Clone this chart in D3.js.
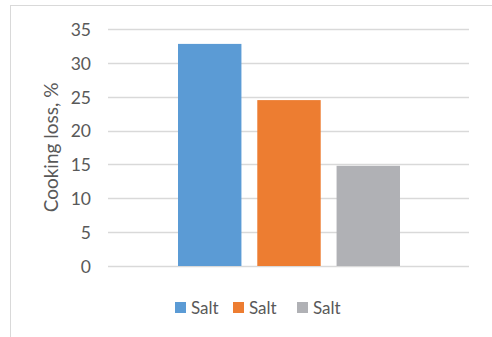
<!DOCTYPE html>
<html>
<head>
<meta charset="utf-8">
<script src="https://cdn.jsdelivr.net/npm/d3@7"></script>
<style>
  html, body { margin: 0; padding: 0; background: #fff; }
  svg { display: block; }
  text { font-family: Lato, "Open Sans", sans-serif; fill: #595959; }
</style>
</head>
<body>
<svg id="chart" width="492" height="337"></svg>
<script>
// Cooking loss by treatment
const seriesNames = ["Salt", "Salt", "Salt"];
const seriesValues = [32.8, 24.5, 14.8];
const seriesColors = ["#5b9bd5", "#ed7d31", "#b0b1b5"];
const yTicks = [0, 5, 10, 15, 20, 25, 30, 35];
const yTitle = "Cooking loss, %";

const svg = d3.select("#chart");
const W = 492, H = 337;

// chart frame
svg.append("rect")
  .attr("x", 10.5).attr("y", 5.5)
  .attr("width", W).attr("height", H)
  .attr("fill", "none").attr("stroke", "#d9d9d9").attr("stroke-width", 1);

const plot = { left: 108, right: 469, top: 29, bottom: 266 };

const y = d3.scaleLinear().domain([0, 35]).range([plot.bottom, plot.top]);

// one category holding the three series
const x = d3.scaleBand()
  .domain(d3.range(seriesValues.length))
  .range([178, 400])
  .paddingInner(0.2)
  .paddingOuter(0);

// gridlines
svg.append("g").selectAll("line")
  .data(yTicks)
  .join("line")
  .attr("x1", plot.left).attr("x2", plot.right)
  .attr("y1", d => Math.round(y(d)) + 0.5).attr("y2", d => Math.round(y(d)) + 0.5)
  .attr("stroke", "#d9d9d9").attr("stroke-width", 1.3);

// y axis labels
const yAxis = d3.axisLeft(y).tickValues(yTicks).tickSize(0).tickPadding(0);
const ga = svg.append("g").attr("transform", `translate(91,0)`).call(yAxis);
ga.select(".domain").remove();
ga.selectAll("text")
  .attr("font-size", 17.5)
  .style("font-family", "Lato, 'Open Sans', sans-serif")
  .attr("fill", "#595959")
  .attr("dy", "0.36em");

// bars
svg.append("g").selectAll("rect")
  .data(seriesValues)
  .join("rect")
  .attr("x", (d, i) => x(i))
  .attr("width", x.bandwidth())
  .attr("y", d => y(d))
  .attr("height", d => y(0) - y(d))
  .attr("fill", (d, i) => seriesColors[i]);

// y axis title
svg.append("text")
  .attr("transform", `translate(58,${(plot.top + plot.bottom) / 2}) rotate(-90)`)
  .attr("text-anchor", "middle")
  .attr("font-size", 19)
  .text(yTitle);

// legend
const legendX = [175, 233, 297];
const lg = svg.append("g").selectAll("g")
  .data(seriesNames)
  .join("g")
  .attr("transform", (d, i) => `translate(${legendX[i]},302)`);
lg.append("rect")
  .attr("width", 11).attr("height", 11)
  .attr("fill", (d, i) => seriesColors[i]);
lg.append("text")
  .attr("x", 16).attr("y", 11.5)
  .attr("font-size", 17)
  .text(d => d);
</script>
</body>
</html>
